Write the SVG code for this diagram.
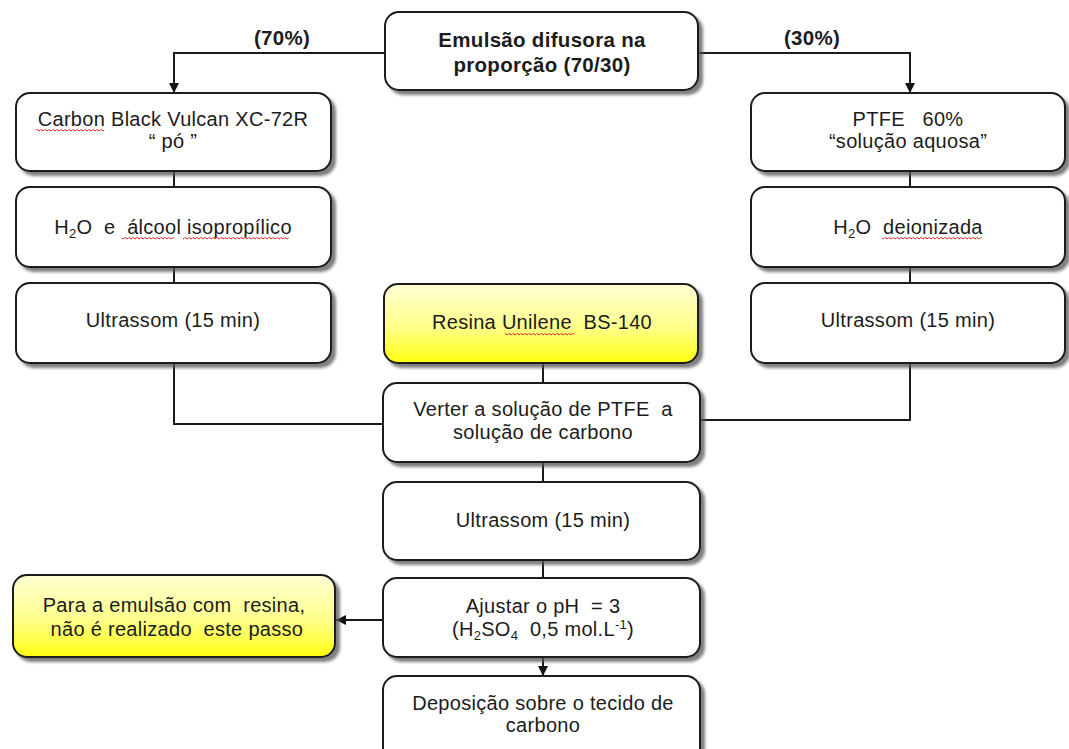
<svg xmlns="http://www.w3.org/2000/svg" width="1069" height="749" viewBox="0 0 1069 749">
  <style>
    .box { fill: #ffffff; stroke: #1a1a1a; stroke-width: 2; filter: url(#shadow); }
    .hl { fill: url(#yellow); stroke: #1a1a1a; stroke-width: 2; filter: url(#shadow); }
    .lbl { font-family: "Liberation Sans", Arial, sans-serif; font-size: 20px; letter-spacing: 0.3px; fill: #1c1c1c; text-anchor: middle; white-space: pre; }
    .bold { font-weight: bold; font-size: 20.5px; }
    .wire { fill: none; stroke: #1a1a1a; stroke-width: 2; }
    .spell { fill: url(#squiggle); }
  </style>
  <defs>
    <filter id="shadow" x="-5%" y="-10%" width="115%" height="130%">
      <feDropShadow dx="4" dy="4" stdDeviation="1.8" flood-color="#555555" flood-opacity="0.75"/>
    </filter>
    <linearGradient id="yellow" x1="0" y1="0" x2="0" y2="1">
      <stop offset="0" stop-color="#ffffd6"/>
      <stop offset="0.55" stop-color="#ffff8a"/>
      <stop offset="1" stop-color="#ffff10"/>
    </linearGradient>
    <pattern id="squiggle" width="4" height="4" patternUnits="userSpaceOnUse">
      <path d="M0 2.5 Q1 0.5 2 2 T4 2.5" fill="none" stroke="#e02020" stroke-width="1"/>
    </pattern>
    <marker id="arrow" viewBox="0 0 10 10" refX="10" refY="5" markerWidth="10" markerHeight="10" markerUnits="userSpaceOnUse" orient="auto">
      <path d="M0 0 L10 5 L0 10 Z" fill="#111111"/>
    </marker>
  </defs>

  <!-- connectors -->
  <g id="connectors">
    <path class="wire" d="M385 53 H174 V93" marker-end="url(#arrow)"/>
    <path class="wire" d="M698 53 H910 V93" marker-end="url(#arrow)"/>
    <path class="wire" d="M174 171 V187"/>
    <path class="wire" d="M174 267 V283"/>
    <path class="wire" d="M910 171 V187"/>
    <path class="wire" d="M910 267 V283"/>
    <path class="wire" d="M174 363 V424 H383"/>
    <path class="wire" d="M910 363 V420 H700"/>
    <path class="wire" d="M543 363 V383"/>
    <path class="wire" d="M543 462 V482"/>
    <path class="wire" d="M543 560 V578"/>
    <path class="wire" d="M383 620 H336" marker-end="url(#arrow)"/>
    <path class="wire" d="M543 657 V676" marker-end="url(#arrow)"/>
    <text class="lbl bold" x="282" y="45">(70%)</text>
    <text class="lbl bold" x="812" y="45">(30%)</text>
  </g>

  <g id="emulsao">
    <rect class="box" x="385" y="12" width="313" height="78" rx="14"/>
    <text class="lbl bold" x="542" y="47">Emulsão difusora na</text>
    <text class="lbl bold" x="542" y="72">proporção (70/30)</text>
  </g>

  <g id="carbon-black">
    <rect class="box" x="16" y="93" width="315" height="78" rx="14"/>
    <text class="lbl" x="173" y="126">Carbon Black Vulcan XC-72R</text>
    <text class="lbl" x="173" y="148">“ pó ”</text>
    <rect class="spell" x="36" y="129" width="68" height="4"/>
  </g>

  <g id="agua-alcool">
    <rect class="box" x="16" y="187" width="315" height="80" rx="14"/>
    <text class="lbl" x="173" y="234">H<tspan font-size="13" dy="4">2</tspan><tspan dy="-4">O  e  álcool isopropílico</tspan></text>
    <rect class="spell" x="122" y="236" width="52" height="4"/>
    <rect class="spell" x="183" y="236" width="106" height="4"/>
  </g>

  <g id="ultrassom-carbono">
    <rect class="box" x="16" y="283" width="315" height="80" rx="14"/>
    <text class="lbl" x="173" y="327">Ultrassom (15 min)</text>
  </g>

  <g id="ptfe">
    <rect class="box" x="751" y="93" width="314" height="78" rx="14"/>
    <text class="lbl" x="908" y="126">PTFE   60%</text>
    <text class="lbl" x="908" y="148">“solução aquosa”</text>
  </g>

  <g id="agua-deionizada">
    <rect class="box" x="751" y="187" width="314" height="80" rx="14"/>
    <text class="lbl" x="908" y="234">H<tspan font-size="13" dy="4">2</tspan><tspan dy="-4">O  deionizada</tspan></text>
    <rect class="spell" x="882" y="236" width="100" height="4"/>
  </g>

  <g id="ultrassom-ptfe">
    <rect class="box" x="751" y="283" width="314" height="80" rx="14"/>
    <text class="lbl" x="908" y="327">Ultrassom (15 min)</text>
  </g>

  <g id="resina">
    <rect class="hl" x="384" y="284" width="314" height="79" rx="14"/>
    <text class="lbl" x="542" y="329">Resina Unilene  BS-140</text>
    <rect class="spell" x="505" y="332" width="69" height="4"/>
  </g>

  <g id="verter">
    <rect class="box" x="383" y="383" width="317" height="79" rx="14"/>
    <text class="lbl" x="543" y="416">Verter a solução de PTFE  a</text>
    <text class="lbl" x="543" y="439">solução de carbono</text>
  </g>

  <g id="ultrassom-mistura">
    <rect class="box" x="383" y="482" width="317" height="78" rx="14"/>
    <text class="lbl" x="543" y="527">Ultrassom (15 min)</text>
  </g>

  <g id="ajuste-ph">
    <rect class="box" x="383" y="578" width="317" height="79" rx="14"/>
    <text class="lbl" x="543" y="613">Ajustar o pH  = 3</text>
    <text class="lbl" x="543" y="636">(H<tspan font-size="13" dy="4">2</tspan><tspan dy="-4">SO</tspan><tspan font-size="13" dy="4">4</tspan><tspan dy="-4">  0,5 mol.L</tspan><tspan font-size="13" dy="-7">-1</tspan><tspan dy="7">)</tspan></text>
  </g>

  <g id="nota-resina">
    <rect class="hl" x="13" y="575" width="322" height="82" rx="14"/>
    <text class="lbl" x="174" y="612">Para a emulsão com  resina,</text>
    <text class="lbl" x="174" y="636"> não é realizado  este passo</text>
  </g>

  <g id="deposicao">
    <rect class="box" x="383" y="676" width="317" height="90" rx="14"/>
    <text class="lbl" x="543" y="710">Deposição sobre o tecido de</text>
    <text class="lbl" x="543" y="732">carbono</text>
  </g>
</svg>
